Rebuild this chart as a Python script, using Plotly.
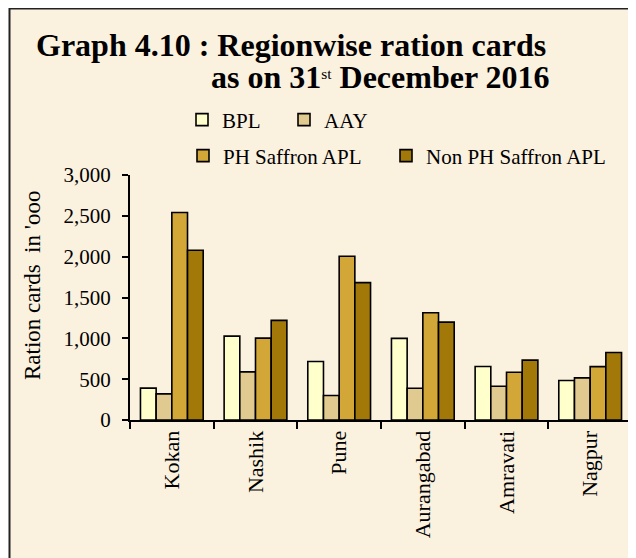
import plotly.graph_objects as go

# Regions and values (ration cards in '000)
regions = ["Kokan", "Nashik", "Pune", "Aurangabad", "Amravati", "Nagpur"]
bpl = [390, 1027, 717, 999, 655, 484]
aay = [320, 589, 300, 389, 414, 516]
ph_saffron = [2541, 1003, 2006, 1313, 585, 653]
non_ph_saffron = [2079, 1220, 1682, 1199, 733, 827]

series = [
    ("BPL", bpl, "#FFFFCC"),
    ("AAY", aay, "#E0CA8F"),
    ("PH Saffron APL", ph_saffron, "#D3A737"),
    ("Non PH Saffron APL", non_ph_saffron, "#A27809"),
]

FONT = "Liberation Serif"
BG = "#FBF1DF"
OFF = 8  # page body margin shifts the figure by 8px

# window pixel -> paper helpers (plot area in window: x 130..632, y 175..420)
L, R, T, B = 130 - OFF, 632 - OFF, 175 - OFF, 420 - OFF
def px(x):
    return (x - OFF - L) / (R - L)
def py(y):
    return (B - (y - OFF)) / (B - T)

# one legend per entry so each can sit where the original has it
legend_pos = [(182, 120), (284, 120), (183, 156), (386, 156)]
legend_ids = ["legend", "legend2", "legend3", "legend4"]

fig = go.Figure()
for (name, vals, color), lid in zip(series, legend_ids):
    fig.add_trace(go.Bar(
        x=regions, y=vals, name=name, legend=lid,
        marker=dict(color=color, line=dict(color="black", width=1.6)),
    ))

legends = {}
for lid, (lx, ly) in zip(legend_ids, legend_pos):
    legends[lid] = dict(x=px(lx), y=py(ly), xanchor="left", yanchor="middle",
                        orientation="h", bgcolor="rgba(0,0,0,0)",
                        font=dict(family=FONT, size=21, color="black"))

fig.update_layout(
    width=636, height=558,
    margin=dict(l=L, r=636 - R, t=T, b=558 - B),
    paper_bgcolor="white",
    plot_bgcolor="rgba(0,0,0,0)",
    font=dict(family=FONT, size=21, color="black"),
    barmode="group",
    bargap=0.25,
    bargroupgap=0,
    showlegend=True,
    xaxis=dict(
        showline=True, linecolor="black", linewidth=2,
        ticks="outside", tickson="boundaries", ticklen=7, tickcolor="black", tickwidth=1.5,
        tickangle=-90, tickfont=dict(family=FONT, size=22), showgrid=False,
    ),
    yaxis=dict(
        range=[0, 3000], tickvals=[0, 500, 1000, 1500, 2000, 2500, 3000],
        tickformat=",", showline=True, linecolor="black", linewidth=2,
        ticks="outside", ticklen=6, tickcolor="black", tickwidth=1.5,
        ticklabelstandoff=7, showgrid=False, zeroline=False,
        tickfont=dict(family=FONT, size=21),
    ),
    shapes=[dict(
        type="rect", xref="paper", yref="paper", layer="below",
        x0=px(9.5), x1=px(660), y0=py(580), y1=py(8.5),
        fillcolor=BG, line=dict(color="#222", width=2),
    )],
    annotations=[
        dict(text="<b>Graph 4.10 : Regionwise ration cards</b>", xref="paper", yref="paper",
             x=px(34), y=py(45), xanchor="left", yanchor="middle", showarrow=False,
             font=dict(family=FONT, size=32)),
        dict(text="<b>as on 31</b><span style='font-size:22px'><sup>st</sup></span>"
                  "<b> December 2016</b>", xref="paper", yref="paper",
             x=px(209), y=py(77), xanchor="left", yanchor="middle", showarrow=False,
             font=dict(family=FONT, size=32)),
        dict(text="Ration cards  in 'ooo", xref="paper", yref="paper",
             x=px(32), y=py(286), xanchor="center", yanchor="middle", showarrow=False,
             textangle=-90, font=dict(family=FONT, size=23)),
    ],
    **legends,
)

fig.write_html("out.html")
